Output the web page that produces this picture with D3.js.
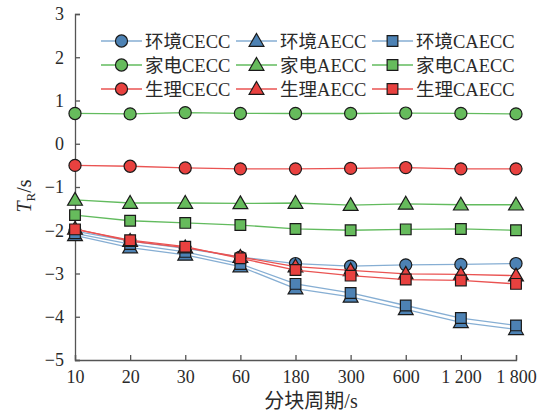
<!DOCTYPE html>
<html>
<head>
<meta charset="utf-8">
<script src="https://cdn.jsdelivr.net/npm/d3@7/dist/d3.min.js"></script>
<style>
  html, body { margin: 0; padding: 0; background: #fff; }
  svg { display: block; }
  text { font-family: "Liberation Serif", "Times New Roman", "Noto Sans CJK SC", serif; fill: #2a2a2a; }
</style>
</head>
<body>
<svg id="chart" width="555" height="415"></svg>
<script>
// Block period categories (x axis)
const periods = ["10", "20", "30", "60", "180", "300", "600", "1 200", "1 800"];
const yTicks = [3, 2, 1, 0, -1, -2, -3, -4, -5];

// T_R values per scene / method
const envCECC   = [-2.02, -2.25, -2.42, -2.62, -2.77, -2.83, -2.80, -2.79, -2.77];
const envAECC   = [-2.12, -2.40, -2.57, -2.84, -3.35, -3.54, -3.83, -4.13, -4.29];
const envCAECC  = [-2.07, -2.32, -2.50, -2.78, -3.24, -3.45, -3.74, -4.03, -4.20];
const homeCECC  = [0.70, 0.69, 0.72, 0.70, 0.70, 0.70, 0.71, 0.70, 0.69];
const homeAECC  = [-1.30, -1.37, -1.37, -1.38, -1.37, -1.42, -1.39, -1.41, -1.41];
const homeCAECC = [-1.65, -1.78, -1.83, -1.88, -1.97, -2.00, -1.98, -1.97, -2.00];
const bioCECC   = [-0.50, -0.52, -0.56, -0.58, -0.58, -0.57, -0.55, -0.58, -0.58];
const bioAECC   = [-1.97, -2.25, -2.40, -2.62, -2.84, -2.93, -3.01, -3.02, -3.05];
const bioCAECC  = [-1.98, -2.23, -2.38, -2.65, -2.92, -3.05, -3.14, -3.16, -3.24];

const palette = {
  env:  { fill: "#4d82b4", line: "#86aed3" },
  home: { fill: "#66bb5c", line: "#62bb5e" },
  bio:  { fill: "#e8413f", line: "#ea5352" }
};

const series = [
  { name: "环境CECC",  values: envCECC,   c: palette.env,  shape: "circle" },
  { name: "环境AECC",  values: envAECC,   c: palette.env,  shape: "triangle" },
  { name: "环境CAECC", values: envCAECC,  c: palette.env,  shape: "square" },
  { name: "家电CECC",  values: homeCECC,  c: palette.home, shape: "circle" },
  { name: "家电AECC",  values: homeAECC,  c: palette.home, shape: "triangle" },
  { name: "家电CAECC", values: homeCAECC, c: palette.home, shape: "square" },
  { name: "生理CECC",  values: bioCECC,   c: palette.bio,  shape: "circle" },
  { name: "生理AECC",  values: bioAECC,   c: palette.bio,  shape: "triangle" },
  { name: "生理CAECC", values: bioCAECC,  c: palette.bio,  shape: "square" }
];

const svg = d3.select("#chart");
const plotLeft = 75, plotRight = 516, plotTop = 14, plotBottom = 360;

const x = d3.scalePoint().domain(periods).range([plotLeft, plotRight]);
const y = d3.scaleLinear().domain([-5, 3]).range([plotBottom, plotTop]);

const axisColor = "#555";

// y axis, ticks pointing inward
const gy = svg.append("g").attr("transform", `translate(${plotLeft},0)`)
  .call(d3.axisLeft(y).tickValues(yTicks).tickSize(-5).tickPadding(11)
    .tickFormat(d => d < 0 ? "\u2212" + Math.abs(d) : d));
gy.select(".domain").attr("stroke", axisColor).attr("stroke-width", 1.3);
gy.selectAll(".tick line").attr("stroke", axisColor).attr("stroke-width", 1.3);
gy.selectAll(".tick text").attr("font-size", 18).attr("fill", "#2a2a2a")
  .style("font-family", '"Liberation Serif", serif');

// x axis, ticks pointing inward
const gx = svg.append("g").attr("transform", `translate(0,${plotBottom})`)
  .call(d3.axisBottom(x).tickSize(-5).tickPadding(10));
gx.select(".domain").attr("stroke", axisColor).attr("stroke-width", 1.3);
gx.selectAll(".tick line").attr("stroke", axisColor).attr("stroke-width", 1.3);
gx.selectAll(".tick text").attr("font-size", 18).attr("fill", "#2a2a2a")
  .style("font-family", '"Liberation Serif", serif');

// axis titles
svg.append("text").attr("x", 311).attr("y", 408).attr("text-anchor", "middle")
  .attr("font-size", 20)
  .html('<tspan style="font-family:\'Noto Sans CJK SC\'">分块周期</tspan>/s');

const yl = svg.append("text").attr("transform", "translate(31,196) rotate(-90)")
  .attr("text-anchor", "middle").attr("font-size", 20);
yl.append("tspan").attr("font-style", "italic").text("T");
yl.append("tspan").attr("font-size", 13).attr("dy", 4).text("R");
yl.append("tspan").attr("dy", -4).text("/s");

// marker drawing
const symSize = { circle: 115, triangle: 95, square: 115 };
const symType = { circle: d3.symbolCircle, triangle: d3.symbolTriangle, square: d3.symbolSquare };
function marker(g, s, cx, cy) {
  g.append("path")
    .attr("d", d3.symbol().type(symType[s.shape]).size(symSize[s.shape])())
    .attr("transform", `translate(${cx},${cy + (s.shape === "triangle" ? 1 : 0)})`)
    .attr("fill", s.c.fill).attr("stroke", "#1a1a1a").attr("stroke-width", 1.2);
}

const line = d3.line().x((d, i) => x(periods[i])).y(d => y(d));
const plot = svg.append("g");
series.forEach(s => {
  const g = plot.append("g");
  g.append("path").datum(s.values).attr("d", line)
    .attr("fill", "none").attr("stroke", s.c.line).attr("stroke-width", 1.3);
  s.values.forEach((v, i) => marker(g, s, x(periods[i]), y(v)));
});

// legend: 3 rows x 3 columns
const colX = [101, 236, 372];
const rowY = [41, 65, 89];
series.forEach((s, k) => {
  const row = Math.floor(k / 3), col = k % 3;
  const lx = colX[col], ly = rowY[row];
  const g = svg.append("g");
  g.append("line").attr("x1", lx).attr("x2", lx + 41).attr("y1", ly).attr("y2", ly)
    .attr("stroke", s.c.line).attr("stroke-width", 1.3);
  marker(g, s, lx + 20.5, ly);
  const t = g.append("text").attr("x", lx + 44).attr("y", ly + 6.5).attr("font-size", 18.5);
  t.append("tspan").style("font-family", "'Noto Sans CJK SC'").text(s.name.slice(0, 2));
  t.append("tspan").text(s.name.slice(2));
});
</script>
</body>
</html>
